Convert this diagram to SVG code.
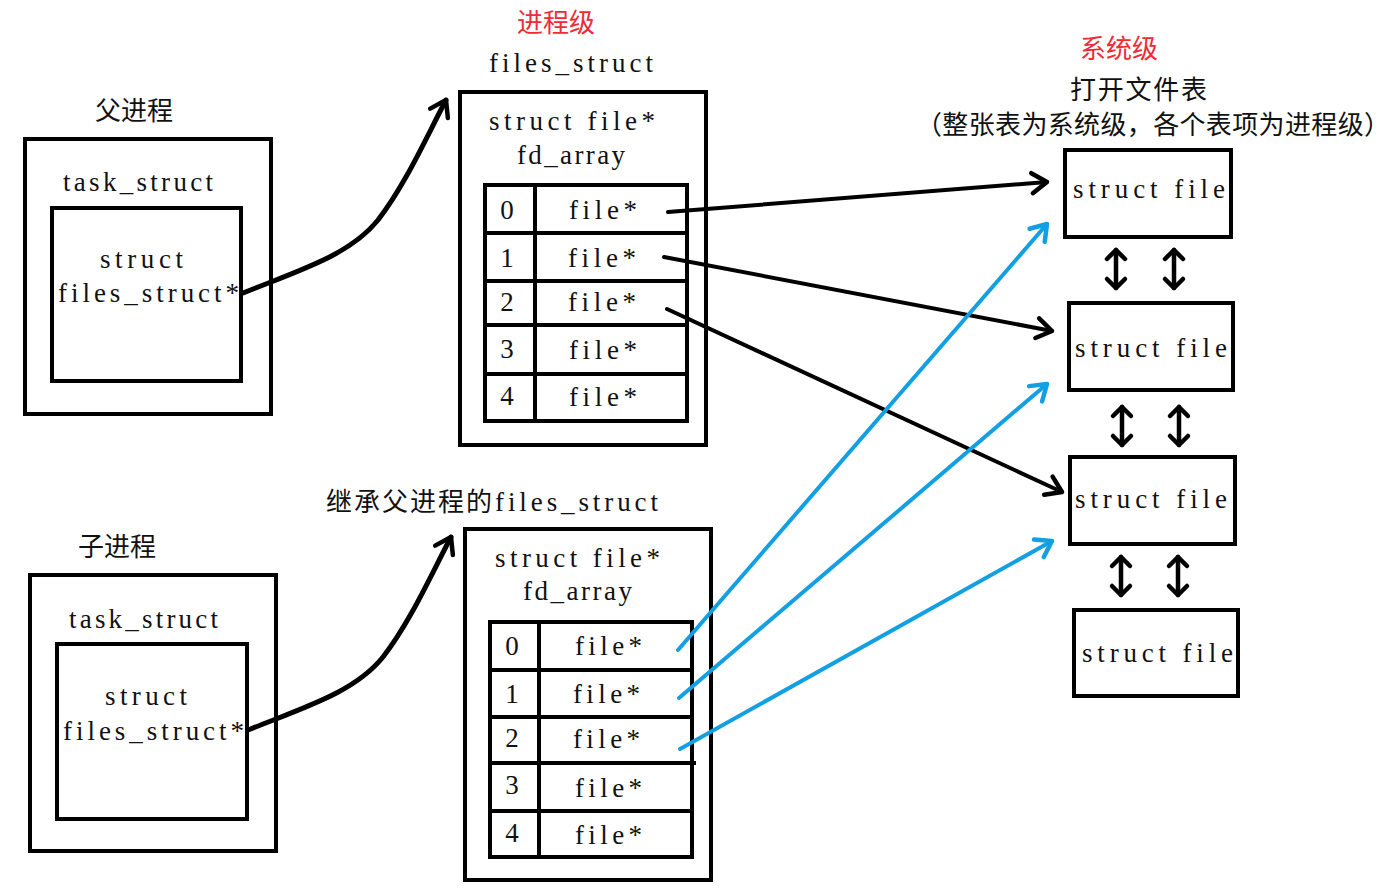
<svg xmlns="http://www.w3.org/2000/svg" width="1398" height="889" viewBox="0 0 1398 889">
<style>
.bg{fill:#fff}
.box{fill:none;stroke:#000;stroke-width:4}
.lat{font-family:"Liberation Serif","Times New Roman",serif;font-size:27px;fill:#111}
.num{font-family:"Liberation Serif","Times New Roman",serif;font-size:27px;fill:#111;text-anchor:middle}
.cjk{font-family:"Noto Sans CJK SC","Noto Sans CJK JP",sans-serif;font-size:26px;fill:#111}
.red{fill:#f02a36}
.blk{fill:none;stroke:#000;stroke-width:4;stroke-linecap:round;marker-end:url(#ah)}
.crv{fill:none;stroke:#000;stroke-width:5;stroke-linecap:round;marker-end:url(#ah)}
.blu{fill:none;stroke:#13a0e3;stroke-width:4;stroke-linecap:round;marker-end:url(#ahb)}
.dbl{fill:none;stroke:#000;stroke-width:4.5;stroke-linecap:round;marker-start:url(#ahs);marker-end:url(#ahs)}
</style>
<defs>
<marker id="ah" viewBox="-22 -16 26 32" refX="0" refY="0" markerWidth="26" markerHeight="32" markerUnits="userSpaceOnUse" orient="auto">
<path d="M-15,-10 L0,0 L-15,10" fill="none" stroke="#000" stroke-width="4.5" stroke-linecap="round" stroke-linejoin="round"/>
</marker>
<marker id="ahb" viewBox="-22 -16 26 32" refX="0" refY="0" markerWidth="26" markerHeight="32" markerUnits="userSpaceOnUse" orient="auto">
<path d="M-15,-10 L0,0 L-15,10" fill="none" stroke="#13a0e3" stroke-width="4.5" stroke-linecap="round" stroke-linejoin="round"/>
</marker>
<marker id="ahs" viewBox="-16 -14 20 28" refX="0" refY="0" markerWidth="20" markerHeight="28" markerUnits="userSpaceOnUse" orient="auto-start-reverse">
<path d="M-9,-9 L0,0 L-9,9" fill="none" stroke="#000" stroke-width="4.5" stroke-linecap="round" stroke-linejoin="round"/>
</marker>
</defs>
<rect class="bg" x="0" y="0" width="1398" height="889"/>

<g id="labels">
<text class="cjk red" x="517" y="32">进程级</text>
<text class="cjk red" x="1080" y="58">系统级</text>
<text class="cjk" x="1070" y="99" font-size="27" textLength="137" lengthAdjust="spacing">打开文件表</text>
<text class="cjk" x="916" y="134" font-size="27" textLength="474" lengthAdjust="spacing">（整张表为系统级，各个表项为进程级）</text>
</g>

<g id="parent-process">
<text class="cjk" x="95" y="120" font-size="27">父进程</text>
<rect class="box" x="25" y="139" width="246" height="275"/>
<text class="lat" x="63" y="191" textLength="150" lengthAdjust="spacing">task_struct</text>
<rect class="box" x="52" y="208" width="189" height="173"/>
<text class="lat" x="100" y="268" textLength="83" lengthAdjust="spacing">struct</text>
<text class="lat" x="58" y="302" textLength="181" lengthAdjust="spacing">files_struct*</text>
</g>

<g id="parent-files-struct">
<text class="lat" x="489" y="72" textLength="164" lengthAdjust="spacing">files_struct</text>
<rect class="box" x="460" y="92" width="246" height="353"/>
<text class="lat" x="489" y="130" textLength="166" lengthAdjust="spacing">struct file*</text>
<text class="lat" x="517" y="164" textLength="108" lengthAdjust="spacing">fd_array</text>
<rect class="box" x="485" y="185" width="202" height="236"/>
<line class="box" x1="535" y1="185" x2="535" y2="421"/>
<line class="box" x1="485" y1="233" x2="687" y2="233"/>
<line class="box" x1="485" y1="281" x2="687" y2="281"/>
<line class="box" x1="485" y1="325" x2="687" y2="325"/>
<line class="box" x1="485" y1="374" x2="687" y2="374"/>
<text class="num" x="507" y="219">0</text>
<text class="num" x="507" y="267">1</text>
<text class="num" x="507" y="311">2</text>
<text class="num" x="507" y="358">3</text>
<text class="num" x="507" y="405">4</text>
<text class="lat" x="569" y="219" textLength="68" lengthAdjust="spacing">file*</text>
<text class="lat" x="568" y="267" textLength="68" lengthAdjust="spacing">file*</text>
<text class="lat" x="568" y="311" textLength="68" lengthAdjust="spacing">file*</text>
<text class="lat" x="569" y="359" textLength="68" lengthAdjust="spacing">file*</text>
<text class="lat" x="569" y="406" textLength="68" lengthAdjust="spacing">file*</text>
</g>

<g id="child-process">
<text class="cjk" x="78" y="556" font-size="27">子进程</text>
<rect class="box" x="30" y="575" width="246" height="276"/>
<text class="lat" x="69" y="628" textLength="149" lengthAdjust="spacing">task_struct</text>
<rect class="box" x="57" y="644" width="190" height="175"/>
<text class="lat" x="105" y="705" textLength="82" lengthAdjust="spacing">struct</text>
<text class="lat" x="63" y="740" textLength="181" lengthAdjust="spacing">files_struct*</text>
</g>

<g id="child-files-struct">
<text x="326" y="511"><tspan class="cjk" font-size="27" textLength="166" lengthAdjust="spacing">继承父进程的</tspan><tspan class="lat" x="495" textLength="163" lengthAdjust="spacing">files_struct</tspan></text>
<rect class="box" x="465" y="529" width="246" height="351"/>
<text class="lat" x="495" y="567" textLength="165" lengthAdjust="spacing">struct file*</text>
<text class="lat" x="523" y="600" textLength="109" lengthAdjust="spacing">fd_array</text>
<rect class="box" x="490" y="622" width="202" height="235"/>
<line class="box" x1="539" y1="622" x2="539" y2="857"/>
<line class="box" x1="490" y1="670" x2="692" y2="670"/>
<line class="box" x1="490" y1="717" x2="692" y2="717"/>
<line class="box" x1="490" y1="763" x2="696" y2="763"/>
<line class="box" x1="490" y1="811" x2="692" y2="811"/>
<text class="num" x="512" y="655">0</text>
<text class="num" x="512" y="703">1</text>
<text class="num" x="512" y="747">2</text>
<text class="num" x="512" y="794">3</text>
<text class="num" x="512" y="842">4</text>
<text class="lat" x="575" y="655" textLength="67" lengthAdjust="spacing">file*</text>
<text class="lat" x="573" y="703" textLength="67" lengthAdjust="spacing">file*</text>
<text class="lat" x="573" y="748" textLength="67" lengthAdjust="spacing">file*</text>
<text class="lat" x="575" y="797" textLength="67" lengthAdjust="spacing">file*</text>
<text class="lat" x="575" y="844" textLength="67" lengthAdjust="spacing">file*</text>
</g>

<g id="struct-file-1">
<rect class="box" x="1065" y="150" width="166" height="87"/>
<text class="lat" x="1073" y="198" textLength="152" lengthAdjust="spacing">struct file</text>
</g>
<g id="struct-file-2">
<rect class="box" x="1069" y="303" width="164" height="87"/>
<text class="lat" x="1075" y="357" textLength="152" lengthAdjust="spacing">struct file</text>
</g>
<g id="struct-file-3">
<rect class="box" x="1070" y="457" width="165" height="87"/>
<text class="lat" x="1075" y="508" textLength="152" lengthAdjust="spacing">struct file</text>
</g>
<g id="struct-file-4">
<rect class="box" x="1074" y="610" width="164" height="86"/>
<text class="lat" x="1082" y="662" textLength="151" lengthAdjust="spacing">struct file</text>
</g>

<g id="connectors">
<path class="crv" d="M243,293 C300,270 350,255 378,220 C405,185 425,140 446,100"/>
<path class="crv" d="M248,730 C305,707 355,692 383,657 C410,622 430,577 451,537"/>
<line class="blk" x1="668" y1="212" x2="1047" y2="182"/>
<line class="blk" x1="664" y1="257" x2="1052" y2="331"/>
<line class="blk" x1="667" y1="309" x2="1062" y2="492"/>
<line class="blu" x1="678" y1="650" x2="1047" y2="224"/>
<line class="blu" x1="679" y1="698" x2="1047" y2="384"/>
<line class="blu" x1="680" y1="749" x2="1052" y2="541"/>
<line class="dbl" x1="1116" y1="250" x2="1116" y2="288"/>
<line class="dbl" x1="1174" y1="250" x2="1174" y2="288"/>
<line class="dbl" x1="1122" y1="407" x2="1122" y2="445"/>
<line class="dbl" x1="1179" y1="407" x2="1179" y2="445"/>
<line class="dbl" x1="1121" y1="557" x2="1121" y2="595"/>
<line class="dbl" x1="1178" y1="557" x2="1178" y2="595"/>
</g>
</svg>
